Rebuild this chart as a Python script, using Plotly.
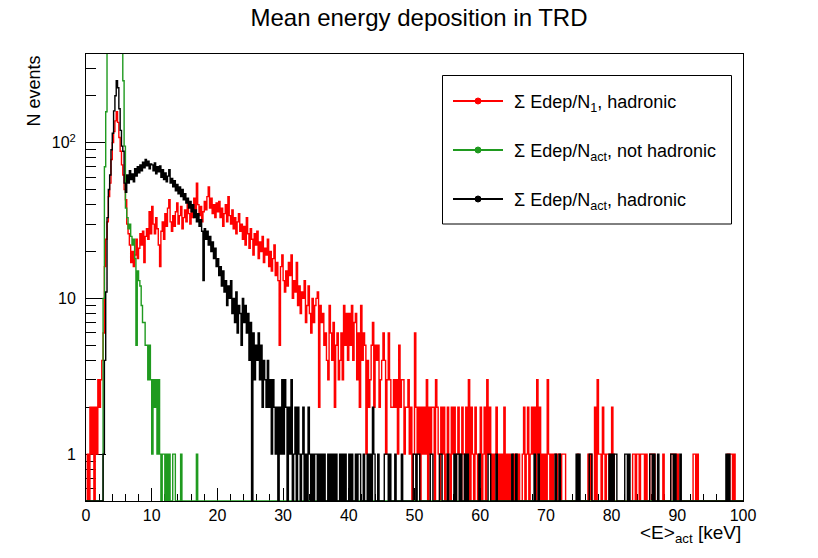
import math
import plotly.graph_objects as go

# Histogram binning: 500 bins of 0.2 keV between 0 and 100 keV
X_MIN, X_MAX, N_BINS = 0.0, 100.0, 500
Y_MIN, Y_MAX = 0.5, 371.0

# Sum Edep / N_1, hadronic events (counts per bin, 10 keV per row)
red_counts = [
    0, 1, 0, 2, 1, 2, 0, 2, 1, 3, 2, 3, 4, 6, 16, 24, 31, 45, 55, 78,
    100, 118, 138, 158, 135, 108, 88, 72, 62, 50, 43, 30, 26, 22, 17, 20, 16, 19, 24, 18,
    21, 26, 22, 27, 17, 25, 28, 24, 36, 26,
    39, 30, 26, 33, 28, 22, 16, 27, 31, 24, 35, 29, 38, 43, 31, 27, 34, 29, 36, 41,
    30, 34, 39, 28, 33, 37, 31, 42, 35, 30, 38, 33, 44, 36, 55, 40, 34, 39, 31, 36,
    42, 37, 45, 52, 38, 44, 35, 40, 33, 41,
    36, 42, 33, 38, 29, 35, 40, 31, 45, 34, 30, 37, 28, 33, 26, 31, 35, 27, 30, 24,
    29, 22, 33, 26, 21, 28, 24, 19, 26, 22, 27, 18, 23, 20, 25, 17, 21, 19, 24, 16,
    20, 15, 18, 22, 14, 17, 13, 5, 16, 19,
    13, 11, 15, 12, 17, 14, 19, 10, 13, 11, 17, 9, 12, 8, 11, 10, 13, 7, 9, 12,
    8, 6, 10, 7, 9, 10, 11, 2, 9, 7, 8, 5, 6, 4, 3, 9, 6, 4, 7, 2,
    5, 6, 3, 4, 6, 3, 9, 5, 8, 4,
    8, 5, 9, 4, 7, 8, 3, 6, 2, 9, 4, 6, 5, 1, 4, 2, 3, 5, 7, 2,
    5, 4, 5, 2, 3, 4, 6, 4, 1, 3, 6, 3, 2, 2, 3, 2, 3, 1, 5, 2,
    3, 3, 1, 2, 2, 3, 1, 2, 0, 1,
    6, 2, 1, 2, 0, 2, 1, 2, 1, 3, 0, 2, 1, 2, 2, 0, 3, 2, 1, 0,
    2, 1, 2, 0, 1, 2, 1, 0, 2, 1, 2, 0, 1, 2, 1, 0, 2, 1, 0, 2,
    1, 3, 0, 2, 1, 0, 2, 1, 0, 1,
    2, 0, 1, 2, 0, 3, 1, 2, 0, 1, 0, 1, 2, 0, 1, 0, 1, 0, 2, 0,
    1, 0, 1, 0, 0, 1, 0, 1, 0, 1, 0, 0, 1, 2, 0, 1, 2, 0, 1, 2,
    1, 2, 0, 3, 1, 2, 0, 1, 0, 1,
    0, 3, 1, 0, 1, 0, 1, 1, 0, 1, 1, 0, 1, 1, 1, 0, 0, 0, 0, 0,
    0, 0, 0, 0, 1, 0, 0, 0, 0, 0, 0, 0, 1, 0, 1, 0, 0, 2, 0, 3,
    1, 1, 0, 2, 1, 0, 1, 1, 0, 1,
    2, 1, 0, 0, 0, 0, 0, 0, 0, 0, 0, 0, 0, 0, 0, 0, 1, 1, 0, 1,
    1, 0, 1, 1, 1, 0, 1, 0, 0, 1, 1, 0, 1, 0, 0, 0, 0, 0, 0, 1,
    0, 0, 0, 0, 0, 1, 1, 0, 1, 0,
    1, 0, 0, 0, 0, 0, 0, 0, 0, 0, 0, 0, 1, 1, 0, 1, 0, 0, 0, 0,
    0, 0, 0, 0, 0, 0, 0, 0, 0, 0, 0, 0, 0, 0, 0, 0, 0, 0, 1, 0,
    1, 1, 0, 1, 0, 0, 0, 0, 0, 0,
]

# Sum Edep / N_act, non-hadronic events (no entries above 20 keV)
green_counts = [
    0, 0, 0, 0, 0, 0, 0, 0, 0, 0, 0, 0, 0, 10, 70, 158, 480, 720, 950, 1180,
    1350, 1420, 1380, 1230, 1000, 760, 540, 380, 250, 95, 38, 33, 28, 30, 25, 22, 24, 18, 5, 15,
    13, 12, 9, 7, 7, 5, 5, 3, 5, 3,
    1, 3, 2, 3, 1, 3, 1, 0, 1, 1, 0, 1, 0, 1, 0, 0, 1, 1, 0, 0,
    0, 0, 1, 0, 0, 0, 0, 0, 0, 0, 0, 0, 0, 0, 1, 0, 0, 0, 0, 0,
    0, 0, 0, 0, 0, 0, 0, 0, 0, 0,
] + [0] * 400

# Sum Edep / N_act, hadronic events
black_counts = [
    0, 0, 0, 0, 0, 0, 0, 0, 0, 0, 0, 0, 0, 1, 4, 11, 33, 50, 62, 90,
    115, 160, 200, 250, 225, 165, 120, 95, 88, 55, 48, 62, 55, 66, 58, 63, 56, 68, 61, 70,
    64, 72, 66, 75, 69, 78, 71, 76, 68, 73,
    72, 66, 74, 63, 70, 65, 71, 60, 67, 58, 64, 56, 61, 67, 55, 59, 52, 57, 49, 54,
    47, 52, 45, 50, 43, 47, 41, 44, 38, 42, 36, 40, 33, 37, 31, 35, 29, 32, 27, 13,
    28, 24, 27, 22, 25, 20, 23, 18, 21, 16,
    18, 14, 16, 12, 15, 11, 13, 9, 12, 10, 13, 8, 10, 7, 11, 6, 9, 8, 5, 10,
    7, 9, 6, 8, 4, 7, 0, 6, 3, 5, 4, 6, 3, 5, 2, 4, 3, 2, 4, 2,
    3, 1, 3, 2, 1, 2, 0, 2, 1, 3,
    1, 3, 2, 0, 2, 1, 3, 0, 1, 2, 0, 2, 1, 0, 1, 2, 0, 1, 0, 2,
    1, 0, 1, 0, 1, 1, 0, 1, 0, 1, 0, 1, 0, 0, 1, 0, 1, 0, 1, 0,
    1, 0, 0, 1, 0, 1, 0, 1, 0, 0,
    1, 0, 1, 0, 0, 1, 0, 1, 1, 0, 0, 1, 0, 0, 1, 0, 1, 0, 2, 1,
    0, 0, 1, 0, 0, 0, 0, 1, 1, 1, 0, 1, 0, 0, 0, 1, 0, 0, 0, 0,
    1, 0, 0, 0, 0, 0, 0, 0, 0, 1,
    1, 0, 1, 1, 0, 0, 0, 0, 0, 0, 0, 0, 1, 1, 0, 0, 0, 0, 0, 1,
    1, 0, 0, 0, 0, 1, 0, 0, 0, 0, 1, 0, 1, 1, 0, 1, 0, 0, 1, 0,
    1, 0, 0, 0, 0, 0, 0, 0, 0, 1,
    0, 0, 0, 0, 0, 0, 1, 1, 0, 0, 0, 0, 1, 0, 0, 0, 0, 0, 0, 0,
    0, 0, 0, 0, 1, 0, 0, 1, 0, 0, 0, 0, 0, 0, 0, 0, 0, 0, 0, 0,
    0, 1, 0, 0, 1, 0, 0, 0, 0, 0,
    0, 0, 0, 0, 0, 0, 0, 1, 0, 0, 1, 0, 0, 0, 0, 0, 0, 0, 0, 0,
    0, 0, 0, 1, 0, 1, 0, 0, 0, 0, 0, 0, 0, 1, 1, 0, 0, 0, 0, 0,
    0, 0, 0, 0, 0, 0, 0, 0, 1, 0,
    1, 0, 1, 1, 0, 0, 0, 0, 0, 0, 1, 1, 0, 1, 0, 0, 0, 0, 0, 0,
    0, 0, 0, 0, 0, 0, 0, 0, 0, 1, 1, 0, 1, 0, 0, 1, 0, 0, 0, 0,
    0, 0, 0, 0, 0, 1, 1, 0, 1, 0,
    0, 0, 1, 0, 0, 0, 0, 0, 0, 0, 0, 0, 0, 0, 0, 0, 0, 0, 0, 0,
    0, 0, 0, 0, 0, 0, 0, 0, 0, 0, 0, 0, 0, 0, 0, 0, 0, 1, 0, 1,
    0, 0, 0, 0, 0, 0, 0, 0, 0, 0,
]

series_names = [
    "Σ Edep/N<sub>1</sub>, hadronic",
    "Σ Edep/N<sub>act</sub>, not hadronic",
    "Σ Edep/N<sub>act</sub>, hadronic",
]
series_counts = [red_counts, green_counts, black_counts]
series_colors = ["#ff0000", "#1f9a1f", "#000000"]

x_tick_vals = [0, 10, 20, 30, 40, 50, 60, 70, 80, 90, 100]
y_tick_vals = [1, 10, 100]
y_tick_text = ["1", "10", "10<sup>2</sup>"]
y_minor_vals = [0.6, 0.7, 0.8, 0.9] + [m * d for d in (1, 10, 100) for m in range(2, 10)]

FONT = "Liberation Sans, Arial, Helvetica, sans-serif"
W, H = 818, 558
ML, MR, MT, MB = 86, 75, 54, 57
PW, PH = W - ML - MR, H - MT - MB


def px(xp):
    """pixel column -> paper x"""
    return (xp - ML) / PW


def py(yp):
    """pixel row -> paper y"""
    return (H - MB - yp) / PH


bin_width = (X_MAX - X_MIN) / N_BINS
edges = [X_MIN + i * bin_width for i in range(N_BINS + 1)]


def step_values(counts):
    # empty bins are drawn on the lower frame edge, as in a log-scale histogram
    ys = [c if c > 0 else Y_MIN for c in counts]
    return ys + [ys[-1]]


fig = go.Figure()
for counts, color in zip(series_counts, series_colors):
    assert len(counts) == N_BINS
    fig.add_trace(go.Scatter(
        x=edges, y=step_values(counts), mode="lines",
        line=dict(color=color, width=1.4, shape="hv"),
        showlegend=False, hoverinfo="skip",
    ))

fig.update_layout(
    width=W, height=H,
    margin=dict(l=ML, r=MR, t=MT, b=MB),
    paper_bgcolor="white", plot_bgcolor="white",
    font=dict(family=FONT, color="black", size=16),
    title=dict(text="Mean energy deposition in TRD", x=419 / W, xanchor="center",
               y=1 - 18 / H, yanchor="middle", font=dict(size=24, family=FONT)),
)

fig.update_xaxes(
    range=[X_MIN, X_MAX], showgrid=False, zeroline=False,
    showline=True, mirror=True, linecolor="black", linewidth=1,
    tickmode="array", tickvals=x_tick_vals,
    ticks="inside", ticklen=13, tickcolor="black", tickwidth=1,
    minor=dict(dtick=2, tick0=0, ticks="inside", ticklen=7, tickcolor="black", tickwidth=1),
    tickfont=dict(size=16), layer="below traces",
)
fig.update_yaxes(
    type="log", range=[math.log10(Y_MIN), math.log10(Y_MAX)],
    showgrid=False, zeroline=False,
    showline=True, mirror=True, linecolor="black", linewidth=1,
    tickmode="array", tickvals=y_tick_vals, ticktext=y_tick_text,
    ticks="inside", ticklen=20, tickcolor="black", tickwidth=1,
    minor=dict(tickmode="array", tickvals=y_minor_vals, ticks="inside",
               ticklen=10, tickcolor="black", tickwidth=1),
    tickfont=dict(size=16), ticklabelstandoff=6, layer="below traces",
)

# axis titles
fig.add_annotation(text="N events", textangle=-90, xref="paper", yref="paper",
                   x=px(33), y=1.0, xanchor="center", yanchor="top",
                   showarrow=False, font=dict(size=18))
fig.add_annotation(text="&lt;E&gt;<sub>act</sub> [keV]", xref="paper", yref="paper",
                   x=px(743), y=py(520), xanchor="right", yanchor="top",
                   showarrow=False, font=dict(size=19))

# legend box
fig.add_shape(type="rect", xref="paper", yref="paper",
              x0=px(442.5), x1=px(731.5), y0=py(224), y1=py(75.5),
              line=dict(color="black", width=1), fillcolor="white", layer="above")
for i, (name, color) in enumerate(zip(series_names, series_colors)):
    yl = 101 + 49 * i
    fig.add_shape(type="line", xref="paper", yref="paper",
                  x0=px(453), x1=px(503), y0=py(yl), y1=py(yl),
                  line=dict(color=color, width=2), layer="above")
    fig.add_shape(type="circle", xref="paper", yref="paper",
                  x0=px(475), x1=px(481), y0=py(yl + 3), y1=py(yl - 3),
                  line=dict(color=color, width=1), fillcolor=color, layer="above")
    fig.add_annotation(text=name, xref="paper", yref="paper",
                       x=px(512), y=py(yl + 2), xanchor="left", yanchor="middle",
                       showarrow=False, font=dict(size=18))

fig.write_html("out.html")
